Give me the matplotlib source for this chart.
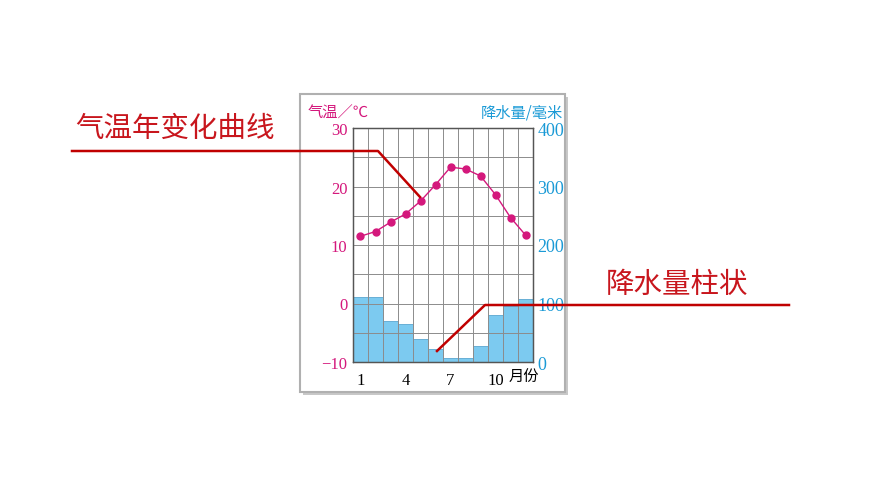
import matplotlib.pyplot as plt
from matplotlib.patches import Rectangle
from matplotlib.lines import Line2D

plt.rcParams["font.family"] = ["Liberation Serif", "Noto Sans CJK SC", "DejaVu Sans"]

months = list(range(1, 13))
temp = [11.5, 12.3, 13.9, 15.3, 17.5, 20.3, 23.3, 23.0, 21.8, 18.6, 14.7, 11.7]
precip = [111, 111, 70, 65, 40, 23, 7, 7, 27, 81, 95, 108]
temp_ticks = [-10, 0, 10, 20, 30]
precip_ticks = [0, 100, 200, 300, 400]
month_ticks = [1, 4, 7, 10]

W, H = 870, 489
MAG = "#d4187c"
CYAN = "#1a9ad6"
RED = "#c8161d"
LINE_RED = "#c00000"
CJK = ["Noto Sans CJK SC", "DejaVu Sans"]


def px(x, y):
    return x / W, 1 - y / H


fig = plt.figure(figsize=(W / 100, H / 100), dpi=100)

# chart card with shadow (kept under the axes)
fig.patches.append(Rectangle(px(303, 396), 265 / W, 298 / H, transform=fig.transFigure,
                             facecolor="#c8c8c8", edgecolor="none", zorder=-3))
fig.patches.append(Rectangle(px(300, 393), 265 / W, 298 / H, transform=fig.transFigure,
                             facecolor="white", edgecolor="#b0b0b0", lw=1.5, zorder=-2))

x0, y0 = px(353, 363)
ax2 = fig.add_axes([x0, y0, 180 / W, 234 / H])
ax = ax2.twinx()

# precipitation bars
ax2.bar(months, precip, width=1.0, color="#7ccaf0", edgecolor="#5aa6d0", lw=0.6)
ax2.set_xlim(0.5, 12.5)
ax2.set_ylim(0, 400)
ax2.set_xticks([m + 0.5 for m in range(0, 13)], minor=True)
ax2.set_yticks(range(0, 401, 50), minor=True)
ax2.set_axisbelow(False)
ax2.grid(True, axis="x", which="minor", color="#8c8c8c", lw=0.7)
ax2.grid(True, axis="y", which="both", color="#8c8c8c", lw=0.7)
ax2.yaxis.tick_right()
ax2.set_yticks(precip_ticks)
ax2.tick_params(axis="y", which="both", length=0, pad=3, labelsize=13, labelcolor=CYAN)
ax2.set_xticks(month_ticks)
ax2.tick_params(axis="x", which="both", length=0, pad=7, labelsize=12)

# temperature curve
ax.plot(months, temp, color=MAG, lw=1.0, marker="o", ms=5)
ax.set_ylim(-10, 30)
ax.yaxis.tick_left()
ax.set_yticks(temp_ticks)
ax.set_yticklabels(["\u221210" if t < 0 else str(t) for t in temp_ticks])
ax.tick_params(axis="y", length=0, pad=4, labelsize=12, labelcolor=MAG)
ax.set_zorder(ax2.get_zorder() + 1)
ax.patch.set_visible(False)

for a in (ax, ax2):
    for s in a.spines.values():
        s.set_color("#555555")
        s.set_linewidth(0.9)

fig.text(*px(308, 113), "气温／℃", color=MAG, fontsize=11, family=CJK, va="center")
fig.text(*px(563, 113), "降水量/毫米", color=CYAN, fontsize=11, family=CJK,
         va="center", ha="right")
fig.text(*px(509, 377), "月份", fontsize=11, family=CJK, va="center")

# leader lines and labels
fig.text(*px(75, 129), "气温年变化曲线", color=RED, fontsize=20.5, family=CJK, va="center")
fig.text(*px(606, 285), "降水量柱状", color=RED, fontsize=20.5, family=CJK, va="center")
xs, ys = zip(px(72, 152), px(378, 152), px(420, 198))
fig.add_artist(Line2D(xs, ys, color=LINE_RED, lw=1.8, zorder=10))
xs, ys = zip(px(437, 352), px(485, 306), px(789, 306))
fig.add_artist(Line2D(xs, ys, color=LINE_RED, lw=1.8, zorder=10))

fig.savefig("out.png", dpi=100)
